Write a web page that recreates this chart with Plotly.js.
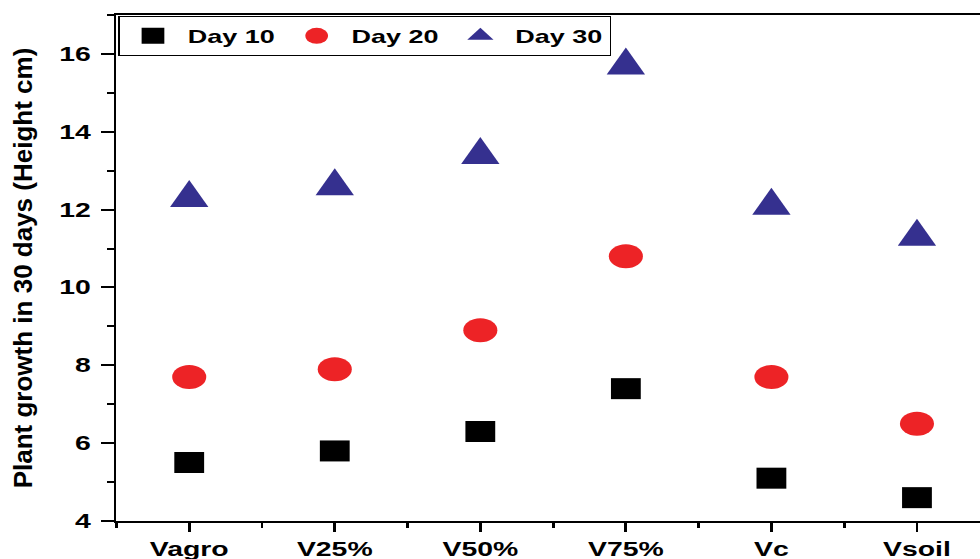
<!DOCTYPE html>
<html>
<head>
<meta charset="utf-8">
<script src="https://cdn.plot.ly/plotly-3.0.1.min.js"></script>
<style>
html, body { margin: 0; padding: 0; background: #fff; overflow: hidden; width: 980px; height: 559px; }
#wrap { width: 980px; height: 559px; overflow: hidden; position: relative; }
#chart { width: 730px; height: 559px; transform: scaleX(1.42); transform-origin: 0 0; }
</style>
</head>
<body>
<div id="wrap"><div id="chart"></div></div>
<script>
// Data
const categories = ['Vagro', 'V25%', 'V50%', 'V75%', 'Vc', 'Vsoil'];
const day10 = [5.5, 5.8, 6.3, 7.4, 5.1, 4.6];
const day20 = [7.7, 7.9, 8.9, 10.8, 7.7, 6.5];
const day30 = [12.3, 12.6, 13.4, 15.7, 12.1, 11.3];
const seriesNames = ['Day 10', 'Day 20', 'Day 30'];
const yTitle = 'Plant growth in 30 days (Height cm)';

const S = 1.42;
const xIdx = categories.map((c, i) => i);
const FONT = 'Liberation Sans, Arial, sans-serif';
const triSize = 27;
const colors = ['#000000', '#ED2326', '#35308F'];

const traces = [
  { x: xIdx, y: day10, name: seriesNames[0], type: 'scatter', mode: 'markers',
    marker: { symbol: 'square', size: 21, color: colors[0], line: { width: 0 } } },
  { x: xIdx, y: day20, name: seriesNames[1], type: 'scatter', mode: 'markers',
    marker: { symbol: 'circle', size: 24, color: colors[1], line: { width: 0 } } },
  { x: xIdx, y: day30, name: seriesNames[2], type: 'scatter', mode: 'markers', showlegend: false,
    legendgroup: 'd30',
    marker: { symbol: 'arrow-down', angle: 180, size: triSize, standoff: triSize * 2 / 3, color: colors[2], line: { width: 0 } } },
  // legend entry for Day 30 (no points drawn)
  { x: [null], y: [null], name: seriesNames[2], type: 'scatter', mode: 'markers', legendgroup: 'd30',
    marker: { symbol: 'triangle-up', size: 20, color: colors[2], line: { width: 0 } } }
];

const layout = {
  width: 730, height: 559,
  margin: { l: 82, r: 33, t: 15, b: 38 },
  paper_bgcolor: '#ffffff', plot_bgcolor: '#ffffff',
  font: { family: FONT, size: 20, color: '#000', weight: 'bold' },
  showlegend: true,
  legend: {
    orientation: 'h', x: 0.002, y: 0.998, xanchor: 'left', yanchor: 'top',
    bgcolor: '#ffffff', bordercolor: '#000', borderwidth: 1,
    font: { family: FONT, size: 19, color: '#000', weight: 'bold' },
    itemwidth: 39, tracegroupgap: 0
  },
  xaxis: {
    range: [-0.5, 5.5], tickmode: 'array', tickvals: xIdx, ticktext: categories,
    showgrid: false, zeroline: false,
    showline: true, linecolor: '#000', linewidth: 2, mirror: true,
    ticks: 'outside', ticklen: 9, tickwidth: 2, tickcolor: '#000',
    minor: { ticks: 'outside', ticklen: 5, tickwidth: 2, tickcolor: '#000', tick0: 0.5, dtick: 1, showgrid: false },
    tickfont: { family: FONT, size: 20, color: '#000', weight: 'bold' },
    ticklabelstandoff: 0
  },
  yaxis: {
    range: [4, 17], tickmode: 'linear', tick0: 0, dtick: 2,
    showgrid: false, zeroline: false,
    showline: true, linecolor: '#000', linewidth: 2, mirror: true,
    ticks: 'outside', ticklen: 9, tickwidth: 2, tickcolor: '#000',
    minor: { ticks: 'outside', ticklen: 5, tickwidth: 2, tickcolor: '#000', dtick: 1, showgrid: false },
    tickfont: { family: FONT, size: 20, color: '#000', weight: 'bold' },
    ticklabelstandoff: 3,
    title: { text: yTitle, font: { family: FONT, size: 26, color: '#000', weight: 'bold' }, standoff: 10 }
  }
};

Plotly.newPlot('chart', traces, layout, { displayModeBar: false, staticPlot: true }).then(() => {
  const t = document.querySelector('.ytitle');
  if (t) {
    const X = 22.5;
    const Y = parseFloat(t.getAttribute('y'));
    t.setAttribute('x', X);
    t.setAttribute('transform',
      'translate(' + X + ',0) scale(' + (1 / S) + ',1) translate(' + (-X) + ',0) rotate(-90,' + X + ',' + Y + ')');
  }
});
</script>
</body>
</html>
